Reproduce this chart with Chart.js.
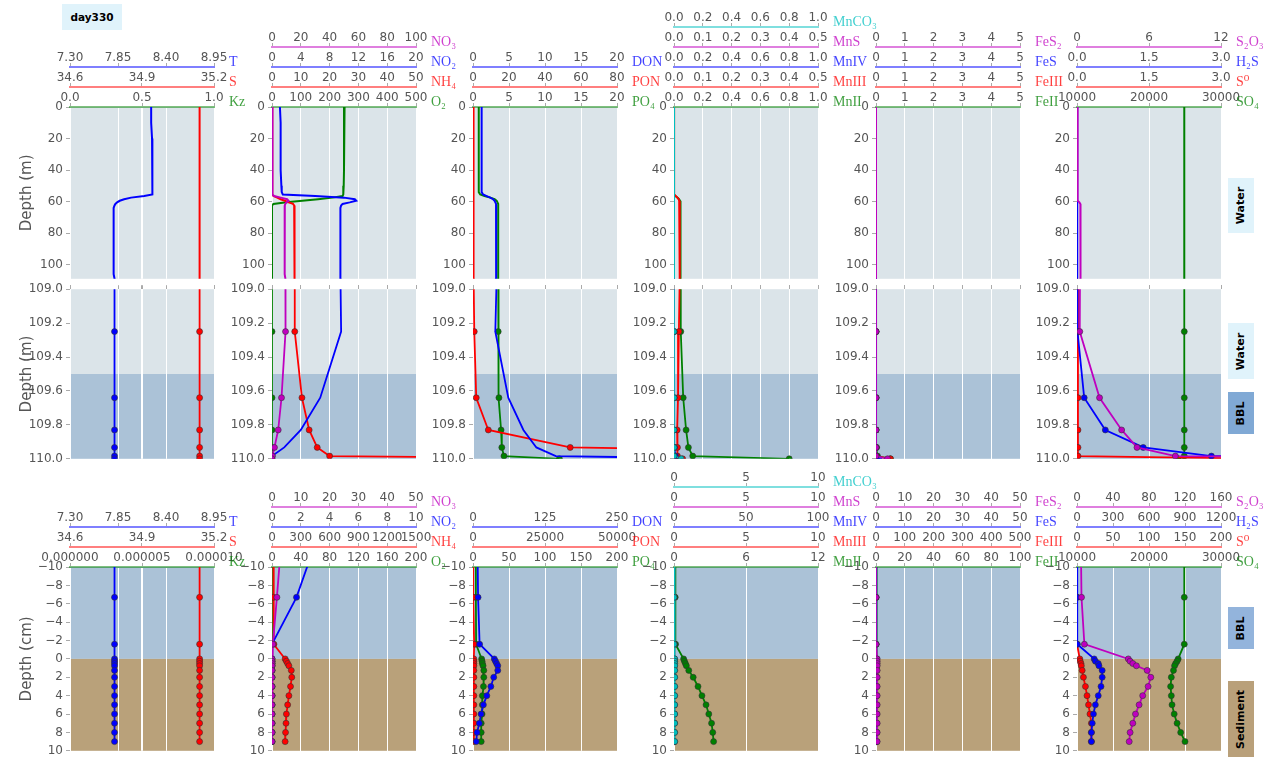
<!DOCTYPE html>
<html lang="en">
<head>
<meta charset="utf-8">
<title>day330 profiles</title>
<style>
  body { margin: 0; width: 1266px; height: 759px; position: relative; overflow: hidden; background: #fff; font-family: "DejaVu Sans", sans-serif; }
  canvas { position: absolute; }
  .tag { position: absolute; display: flex; align-items: center; justify-content: center; font-weight: bold; font-size: 11px; color: #000; }
  .tag span { transform: rotate(-90deg); white-space: nowrap; }
</style>
</head>
<body>

<div class="tag" style="left:62px;top:4px;width:60px;height:26px;background:#e0f3fb;font-size:10.5px;">day330</div>
<div class="tag" style="left:1228px;top:178px;width:26px;height:55px;background:#e0f3fb;"><span>Water</span></div>
<div class="tag" style="left:1228px;top:323px;width:26px;height:56px;background:#e0f3fb;"><span>Water</span></div>
<div class="tag" style="left:1228px;top:392px;width:26px;height:42px;background:#80a9d5;"><span>BBL</span></div>
<div class="tag" style="left:1228px;top:607px;width:26px;height:42px;background:#93b4dc;"><span>BBL</span></div>
<div class="tag" style="left:1228px;top:681px;width:26px;height:76px;background:#b9a07a;"><span>Sediment</span></div>

<script src="https://cdn.jsdelivr.net/npm/chart.js"></script>
<script>

// layer depths (m): water column, bottom boundary layer, sediment
const depth = [
  0, 10, 20, 30, 40, 50, 54, 55.5, 56.5, 57.5, 58.5, 59.5, 60.5, 61.5, 62.5, 64, 70, 80, 90, 106, 108.9,
  109.25, 109.64, 109.83, 109.933, 109.984,
  110, 110.0025, 110.005, 110.0075, 110.0125, 110.02, 110.03, 110.04, 110.05, 110.06, 110.07, 110.08, 110.09
];

const T = [
  8.23, 8.23, 8.24, 8.24, 8.24, 8.25, 8.25, 8.24, 8.15, 8.00, 7.92, 7.87, 7.84, 7.82, 7.81, 7.80, 7.80, 7.80, 7.80, 7.80, 7.81,
  7.81, 7.81, 7.81, 7.81, 7.81,
  7.81, 7.81, 7.81, 7.81, 7.81, 7.81, 7.81, 7.81, 7.81, 7.81, 7.81, 7.81, 7.81
];
const S = [
  35.14, 35.14, 35.14, 35.14, 35.14, 35.14, 35.14, 35.14, 35.14, 35.14, 35.14, 35.14, 35.14, 35.14, 35.14, 35.14, 35.14, 35.14, 35.14, 35.14, 35.14,
  35.14, 35.14, 35.14, 35.14, 35.14,
  35.14, 35.14, 35.14, 35.14, 35.14, 35.14, 35.14, 35.14, 35.14, 35.14, 35.14, 35.14, 35.14
];
const NO3 = [
  0.3, 0.3, 0.3, 0.3, 0.3, 0.3, 0.3, 0.4, 1.5, 6, 10.5, 11.5, 10, 9.2, 8.9, 8.8, 8.8, 8.8, 8.8, 8.8, 9.3,
  9.4, 6.6, 4.3, 1.7, 0.3,
  0, 0, 0, 0, 0, 0, 0, 0, 0, 0, 0, 0, 0
];
const NO2 = [
  1.1, 1.2, 1.2, 1.2, 1.2, 1.3, 1.35, 1.5, 6, 10, 11.5, 11.7, 10.8, 9.8, 9.6, 9.5, 9.5, 9.5, 9.5, 9.5, 9.5,
  9.6, 6.7, 4.0, 1.7, 0,
  0, 0, 0, 0, 0, 0, 0, 0, 0, 0, 0, 0, 0
];
const NH4 = [
  0.1, 0.1, 0.1, 0.1, 0.1, 0.1, 0.1, 0.1, 0.5, 1.8, 3, 4.5, 5.8, 7.3, 7.7, 7.8, 7.8, 7.8, 7.8, 7.8, 7.9,
  7.9, 10.4, 12.9, 15.7, 20,
  137, 150, 163, 176, 201, 206, 193, 176, 163, 150, 146, 141, 137
];
const O2 = [
  252, 250, 250, 250, 250, 249, 248, 247, 245, 210, 160, 105, 50, 5, 0, 0, 0, 0, 0, 0, 0,
  0, 0, 0, 0, 0,
  0, 0, 0, 0, 0, 0, 0, 0, 0, 0, 0, 0, 0
];
const DON = [
  1.2, 1.2, 1.2, 1.2, 1.2, 1.2, 1.2, 1.4, 1.9, 2.4, 2.8, 3.0, 3.1, 3.2, 3.2, 3.2, 3.2, 3.2, 3.2, 3.2, 3.3,
  3.1, 4.9, 7.0, 8.8, 11.5,
  37, 39, 41, 43, 43, 36, 31, 24, 18, 14, 11, 7, 5.7
];
const PON = [
  0.3, 0.3, 0.3, 0.3, 0.3, 0.3, 0.3, 0.3, 0.3, 0.3, 0.3, 0.3, 0.3, 0.3, 0.3, 0.3, 0.3, 0.3, 0.3, 0.3, 0.3,
  0.7, 1.8, 8.5, 54, 400,
  290, 290, 300, 300, 300, 300, 300, 290, 290, 290, 290, 290, 290
];
const PO4 = [
  0.8, 0.8, 0.8, 0.8, 0.8, 0.8, 0.8, 1.0, 1.6, 2.4, 3.0, 3.3, 3.4, 3.5, 3.5, 3.5, 3.5, 3.5, 3.5, 3.5, 3.5,
  3.5, 3.6, 3.9, 4.0, 4.3,
  12, 12.6, 13, 14, 15, 15, 14.5, 13, 13, 12.6, 11.4, 11.4, 11.4
];
const MnCO3 = [
  0, 0, 0, 0, 0, 0, 0, 0, 0, 0, 0, 0, 0, 0, 0, 0, 0, 0, 0, 0, 0,
  0, 0, 0, 0, 0,
  0.05, 0.05, 0.05, 0.05, 0.05, 0.05, 0.05, 0.05, 0.05, 0.05, 0.05, 0.05, 0.05
];
const MnS = [
  0, 0, 0, 0, 0, 0, 0, 0, 0, 0, 0, 0, 0, 0, 0, 0, 0, 0, 0, 0, 0,
  0, 0, 0, 0, 0,
  0, 0, 0, 0, 0, 0, 0, 0, 0, 0, 0, 0, 0
];
const MnIV = [
  0, 0, 0, 0, 0, 0, 0, 0, 0, 0, 0, 0, 0, 0, 0, 0, 0, 0, 0, 0, 0,
  0, 0, 0, 0.003, 0.01,
  0, 0, 0, 0, 0, 0, 0, 0, 0, 0, 0, 0, 0
];
const MnIII = [
  0, 0, 0, 0, 0, 0, 0, 0.002, 0.006, 0.012, 0.016, 0.018, 0.019, 0.02, 0.02, 0.02, 0.02, 0.02, 0.02, 0.02, 0.02,
  0.017, 0.014, 0.011, 0.012, 0.012,
  0.03, 0.03, 0.03, 0.03, 0.03, 0.03, 0.03, 0.03, 0.03, 0.03, 0.03, 0.03, 0.03
];
const MnII = [
  0, 0, 0, 0, 0, 0, 0, 0.002, 0.01, 0.025, 0.035, 0.042, 0.045, 0.045, 0.045, 0.045, 0.045, 0.045, 0.045, 0.045, 0.045,
  0.047, 0.064, 0.084, 0.1, 0.13,
  0.8, 0.87, 0.95, 1.03, 1.23, 1.6, 2.0, 2.33, 2.67, 2.9, 3.13, 3.23, 3.3
];
const FeS2 = [
  0, 0, 0, 0, 0, 0, 0, 0, 0, 0, 0, 0, 0, 0, 0, 0, 0, 0, 0, 0, 0,
  0, 0, 0, 0, 0,
  0.4, 0.4, 0.4, 0.4, 0.4, 0.4, 0.4, 0.4, 0.4, 0.4, 0.4, 0.4, 0.4
];
const FeS = [
  0, 0, 0, 0, 0, 0, 0, 0, 0, 0, 0, 0, 0, 0, 0, 0, 0, 0, 0, 0, 0,
  0, 0, 0, 0, 0,
  0.1, 0.1, 0.1, 0.1, 0.1, 0.1, 0.1, 0.1, 0.1, 0.1, 0.1, 0.1, 0.1
];
const FeIII = [
  0, 0, 0, 0, 0, 0, 0, 0, 0, 0, 0, 0, 0, 0, 0, 0, 0, 0, 0, 0, 0,
  0, 0, 0, 0, 0,
  0.5, 0.5, 0.5, 0.5, 0.5, 0.5, 0.5, 0.5, 0.5, 0.5, 0.5, 0.5, 0.5
];
const FeII = [
  0, 0, 0, 0, 0, 0, 0, 0, 0, 0, 0, 0, 0, 0, 0, 0, 0, 0, 0, 0, 0,
  0, 0, 0, 0.02, 0.05,
  0.5, 0.5, 0.5, 0.5, 0.5, 0.5, 0.5, 0.5, 0.5, 0.5, 0.5, 0.5, 0.5
];
const S2O3 = [
  0.05, 0.05, 0.05, 0.05, 0.05, 0.05, 0.05, 0.05, 0.05, 0.05, 0.05, 0.05, 0.2, 0.28, 0.3, 0.3, 0.3, 0.3, 0.3, 0.3, 0.25,
  0.23, 1.88, 3.72, 5.0, 8.2,
  57, 59, 62, 66, 78, 82, 79, 73, 69, 65, 62, 59, 58
];
const H2S = [
  0, 0, 0, 0, 0, 0, 0, 0, 0, 0, 0, 0, 0.005, 0.01, 0.01, 0.01, 0.01, 0.01, 0.01, 0.01, 0.01,
  0.01, 0.15, 0.59, 1.38, 2.8,
  143, 153, 177, 183, 210, 210, 200, 177, 153, 137, 127, 120, 120
];
const S0 = [
  0, 0, 0, 0, 0, 0, 0, 0, 0, 0, 0, 0, 0, 0, 0, 0, 0, 0, 0, 0, 0,
  0.02, 0.02, 0.02, 0.02, 0.02,
  3.9, 4.4, 5.5, 6, 7.2, 8.9, 11.7, 13.9, 16, 18, 20, 20, 20
];
const SO4 = [
  24900, 24900, 24900, 24900, 24900, 24900, 24900, 24900, 24900, 24900, 24900, 24900, 24900, 24900, 24900, 24900, 24900, 24900, 24900, 24900, 24900,
  24900, 24900, 24900, 24900, 24900,
  24050, 23900, 23700, 23550, 23400, 23100, 23000, 23100, 23200, 23500, 23900, 24400, 25000
];

// tick labels of the top axes (water column panels / sediment panels)
const tkT = ['7.30', '7.85', '8.40', '8.95'];
const tkS = ['34.6', '34.9', '35.2'];
const tkKz = ['0.0', '0.5', '1.0'];
const tkKzSed = ['0.000000', '0.000005', '0.000010'];
const tkNO3 = ['0', '20', '40', '60', '80', '100'];
const tkNO3Sed = ['0', '10', '20', '30', '40', '50'];
const tkNO2 = ['0', '4', '8', '12', '16', '20'];
const tkNO2Sed = ['0', '2', '4', '6', '8', '10'];
const tkNH4 = ['0', '10', '20', '30', '40', '50'];
const tkNH4Sed = ['0', '300', '600', '900', '1200', '1500'];
const tkO2 = ['0', '100', '200', '300', '400', '500'];
const tkO2Sed = ['0', '40', '80', '120', '160', '200'];
const tkDON = ['0', '5', '10', '15', '20'];
const tkDONSed = ['0', '125', '250'];
const tkPON = ['0', '20', '40', '60', '80'];
const tkPONSed = ['0', '25000', '50000'];
const tkPO4 = ['0', '5', '10', '15', '20'];
const tkPO4Sed = ['0', '50', '100', '150', '200'];
const tkMn1 = ['0.0', '0.2', '0.4', '0.6', '0.8', '1.0'];
const tkMn05 = ['0.0', '0.1', '0.2', '0.3', '0.4', '0.5'];
const tkMn10Sed = ['0', '5', '10'];
const tkMnIVSed = ['0', '50', '100'];
const tkMnIISed = ['0', '6', '12'];
const tkFe = ['0', '1', '2', '3', '4', '5'];
const tkFeSSed = ['0', '10', '20', '30', '40', '50'];
const tkFeIIISed = ['0', '100', '200', '300', '400', '500'];
const tkFeIISed = ['0', '20', '40', '60', '80', '100'];
const tkS2O3 = ['0', '6', '12'];
const tkS2O3Sed = ['0', '40', '80', '120', '160'];
const tkH2S = ['0.0', '1.5', '3.0'];
const tkH2SSed = ['0', '300', '600', '900', '1200'];
const tkS0 = ['0.0', '1.5', '3.0'];
const tkS0Sed = ['0', '50', '100', '150', '200'];
const tkSO4 = ['10000', '20000', '30000'];

// depth tick labels
const yTicksWater = ['0', '20', '40', '60', '80', '100'];
const yTicksBBL = ['109.0', '109.2', '109.4', '109.6', '109.8', '110.0'];
const yTicksSed = ['\u221210', '\u22128', '\u22126', '\u22124', '\u22122', '0', '2', '4', '6', '8', '10'];

const BBL_TOP = 109.5;   // m
const SWI = 110;         // sediment-water interface, m

const FONT = '"DejaVu Sans", sans-serif';
const BLUE = [0, 0, 255], RED = [255, 0, 0], GREEN = [0, 128, 0], MAGENTA = [191, 0, 191], CYAN = [0, 191, 191];
const WATER_BG = '#dbe4e9', BBL_BG = '#abc2d7', SED_BG = '#b9a17a';
const rgba = (c, a) => 'rgba(' + c[0] + ',' + c[1] + ',' + c[2] + ',' + a + ')';

const colLeft = [70, 272, 473, 674, 876, 1077];
const PLOT_W = 144;
const AXIS_H = 20;

// variables of each column, outermost top axis first
const columns = [
  [
    { name: 'T', color: BLUE, data: T, wat: tkT, sed: tkT },
    { name: 'S', color: RED, data: S, wat: tkS, sed: tkS },
    { name: 'Kz', color: GREEN, data: null, wat: tkKz, sed: tkKzSed }
  ],
  [
    { name: 'NO\u2083', color: MAGENTA, data: NO3, wat: tkNO3, sed: tkNO3Sed },
    { name: 'NO\u2082', color: BLUE, data: NO2, wat: tkNO2, sed: tkNO2Sed, bblMarks: false },
    { name: 'NH\u2084', color: RED, data: NH4, wat: tkNH4, sed: tkNH4Sed },
    { name: 'O\u2082', color: GREEN, data: O2, wat: tkO2, sed: tkO2Sed }
  ],
  [
    { name: 'DON', color: BLUE, data: DON, wat: tkDON, sed: tkDONSed, bblMarks: false },
    { name: 'PON', color: RED, data: PON, wat: tkPON, sed: tkPONSed },
    { name: 'PO\u2084', color: GREEN, data: PO4, wat: tkPO4, sed: tkPO4Sed }
  ],
  [
    { name: 'MnCO\u2083', color: CYAN, data: MnCO3, wat: tkMn1, sed: tkMn10Sed },
    { name: 'MnS', color: MAGENTA, data: MnS, wat: tkMn05, sed: tkMn10Sed },
    { name: 'MnIV', color: BLUE, data: MnIV, wat: tkMn1, sed: tkMnIVSed },
    { name: 'MnIII', color: RED, data: MnIII, wat: tkMn05, sed: tkMn10Sed },
    { name: 'MnII', color: GREEN, data: MnII, wat: tkMn1, sed: tkMnIISed }
  ],
  [
    { name: 'FeS\u2082', color: MAGENTA, data: FeS2, wat: tkFe, sed: tkFeSSed },
    { name: 'FeS', color: BLUE, data: FeS, wat: tkFe, sed: tkFeSSed },
    { name: 'FeIII', color: RED, data: FeIII, wat: tkFe, sed: tkFeIIISed },
    { name: 'FeII', color: GREEN, data: FeII, wat: tkFe, sed: tkFeIISed }
  ],
  [
    { name: 'S\u2082O\u2083', color: MAGENTA, data: S2O3, wat: tkS2O3, sed: tkS2O3Sed },
    { name: 'H\u2082S', color: BLUE, data: H2S, wat: tkH2S, sed: tkH2SSed },
    { name: 'S\u2070', color: RED, data: S0, wat: tkS0, sed: tkS0Sed },
    { name: 'SO\u2084', color: GREEN, data: SO4, wat: tkSO4, sed: tkSO4 }
  ]
];

const rows = [
  { top: 107, bottom: 279, min: 0, max: 109, ticks: yTicksWater, val: s => Number(s), title: 'Depth (m)',
    bands: [[0, 109, WATER_BG]] },
  { top: 287, bottom: 459, min: 109, max: 110, ticks: yTicksBBL, val: s => Number(s), title: 'Depth (m)',
    bands: [[109, BBL_TOP, WATER_BG], [BBL_TOP, SWI, BBL_BG]] },
  { top: 567, bottom: 751, min: 109.9, max: 110.1, ticks: yTicksSed, val: s => SWI + Number(s.replace('\u2212', '-')) / 100,
    title: 'Depth (cm)', bands: [[109.9, SWI, BBL_BG], [SWI, 110.1, SED_BG]] }
];

const bandPlugin = {
  id: 'bands',
  beforeDraw(chart, args, opts) {
    const { ctx, chartArea: a, scales: { y } } = chart;
    opts.list.forEach(([from, to, color]) => {
      const y1 = Math.max(a.top, Math.min(y.getPixelForValue(from), y.getPixelForValue(to)));
      const y2 = Math.min(a.bottom, Math.max(y.getPixelForValue(from), y.getPixelForValue(to)));
      ctx.fillStyle = color;
      ctx.fillRect(a.left, y1, a.width, y2 - y1);
    });
  }
};

const namePlugin = {
  id: 'axisNames',
  afterDraw(chart, args, opts) {
    const ctx = chart.ctx;
    ctx.save();
    ctx.font = '14px "Liberation Serif", "DejaVu Serif", serif';
    ctx.textAlign = 'left';
    ctx.textBaseline = 'alphabetic';
    opts.list.forEach(n => {
      const s = chart.scales[n.id];
      ctx.fillStyle = n.color;
      ctx.fillText(n.text, s.right + 15, s.bottom - 1);
    });
    ctx.restore();
  }
};

Chart.defaults.font.family = FONT;
Chart.defaults.color = '#555';

function makePanel(vars, c, row, r) {
  const yW = c === 0 ? 70 : 50;
  const padR = 60, padTop = r === 1 ? 8 : 2, padBottom = 10;
  const nTop = r === 1 ? 0 : vars.length;
  const w = yW + PLOT_W + padR;
  const h = padTop + nTop * AXIS_H + (row.bottom - row.top) + padBottom;

  const cv = document.createElement('canvas');
  cv.width = w;
  cv.height = h;
  cv.style.left = (colLeft[c] - yW) + 'px';
  cv.style.top = (row.top - padTop - nTop * AXIS_H) + 'px';
  cv.style.width = w + 'px';
  cv.style.height = h + 'px';
  document.body.appendChild(cv);

  const scales = {};
  const datasets = [];
  const names = [];

  vars.forEach((v, i) => {
    const labels = r === 2 ? v.sed : v.wat;
    const vals = labels.map(Number);
    const id = 'x' + i;
    scales[id] = {
      type: 'linear',
      position: 'top',
      weight: vars.length - i,
      min: vals[0],
      max: vals[vals.length - 1],
      afterBuildTicks: s => { s.ticks = vals.map(value => ({ value })); },
      afterFit: s => { s.height = r === 1 ? 0 : AXIS_H; },
      ticks: {
        display: r !== 1,
        callback: (val, idx) => labels[idx],
        color: '#555',
        font: { size: 12 },
        padding: -2,
        autoSkip: false,
        maxRotation: 0,
        minRotation: 0
      },
      grid: { color: '#ffffff', lineWidth: 1, tickColor: '#aaa', tickLength: 4, drawOnChartArea: true },
      border: { display: r !== 1, color: rgba(v.color, 0.5), width: 2 }
    };
    if (r !== 1) names.push({ id, text: v.name, color: rgba(v.color, 0.75) });
    if (v.data) {
      const marks = r === 2 || (r === 1 && v.bblMarks !== false);
      datasets.push({
        data: depth.map((d, k) => ({ x: v.data[k], y: d })),
        xAxisID: id,
        yAxisID: 'y',
        borderColor: rgba(v.color, 1),
        backgroundColor: rgba(v.color, 1),
        borderWidth: r === 0 ? 2 : 1.8,
        pointRadius: depth.map(d => (marks && d > 109) ? 3 : 0),
        pointBackgroundColor: rgba(v.color, 1),
        pointBorderColor: '#333',
        pointBorderWidth: 0.6,
        tension: 0,
        fill: false
      });
    }
  });

  const yVals = row.ticks.map(row.val);
  scales.y = {
    type: 'linear',
    position: 'left',
    reverse: true,
    min: row.min,
    max: row.max,
    afterBuildTicks: s => { s.ticks = yVals.map(value => ({ value })); },
    afterFit: s => { s.width = yW; },
    ticks: { callback: (val, idx) => row.ticks[idx], color: '#555', font: { size: 12 }, padding: 3, autoSkip: false },
    grid: { drawOnChartArea: false, tickLength: 4, tickColor: '#aaa' },
    border: { display: false },
    title: { display: c === 0, text: row.title, color: '#555', font: { size: 15 }, padding: { top: 18, bottom: 0 } }
  };

  new Chart(cv, {
    type: 'line',
    data: { datasets },
    options: {
      indexAxis: 'y',
      responsive: false,
      animation: false,
      devicePixelRatio: 1,
      layout: { padding: { left: 0, right: padR, top: padTop, bottom: padBottom } },
      scales,
      plugins: {
        legend: { display: false },
        tooltip: { enabled: false },
        bands: { list: row.bands },
        axisNames: { list: names }
      }
    },
    plugins: [bandPlugin, namePlugin]
  });
}

columns.forEach((vars, c) => {
  rows.forEach((row, r) => makePanel(vars, c, row, r));
});

</script>
</body>
</html>
